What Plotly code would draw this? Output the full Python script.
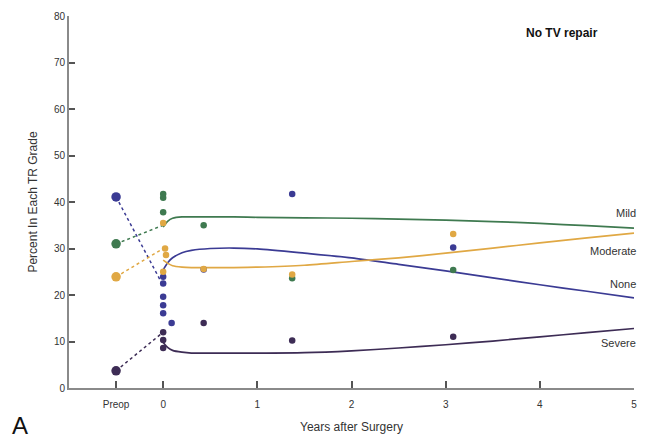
import plotly.graph_objects as go

# ---------------- data ----------------
grades = ["None", "Mild", "Moderate", "Severe"]
colors = {"None": "#3b3b94", "Mild": "#3f7a50", "Moderate": "#e0a844", "Severe": "#3d2c55"}

preop_x = -0.5
preop_vals = {"None": 41.1, "Mild": 31.0, "Moderate": 23.9, "Severe": 3.7}
# end point of the dashed preop->discharge connectors
discharge_vals = {"None": 22.0, "Mild": 35.0, "Moderate": 30.0, "Severe": 12.0}

obs_none_x = [0.0, 0.0, 0.0, 0.0, 0.0, 0.09, 0.43, 1.37, 3.08]
obs_none_y = [23.9, 22.5, 19.6, 17.8, 16.1, 14.0, 25.5, 41.7, 30.2]
obs_mild_x = [0.0, 0.0, 0.0, 0.43, 1.37, 3.08]
obs_mild_y = [41.7, 40.9, 37.8, 35.0, 23.6, 25.4]
obs_mod_x = [0.0, 0.02, 0.03, 0.0, 0.43, 1.37, 3.08]
obs_mod_y = [35.5, 30.0, 28.6, 25.0, 25.6, 24.4, 33.1]
obs_sev_x = [0.0, 0.0, 0.0, 0.43, 1.37, 3.08]
obs_sev_y = [12.0, 10.3, 8.6, 14.0, 10.2, 11.0]

curve_t = [0, 0.05, 0.1, 0.2, 0.3, 0.5, 0.75, 1, 1.5, 2, 2.5, 3, 3.5, 4, 4.5, 5]
curve_mild = [34.6, 35.9, 36.5, 36.8, 36.8, 36.8, 36.8, 36.7, 36.6, 36.5, 36.3, 36.1, 35.8, 35.4, 34.9, 34.4]
curve_none = [25.4, 27.0, 28.0, 29.1, 29.6, 30.0, 30.1, 29.9, 29.0, 28.0, 26.6, 25.2, 23.7, 22.2, 20.8, 19.4]
curve_mod = [27.5, 26.8, 26.3, 26.0, 25.9, 25.9, 25.9, 26.0, 26.4, 27.2, 28.0, 29.0, 30.1, 31.2, 32.3, 33.3]
curve_sev = [9.8, 8.7, 8.1, 7.7, 7.5, 7.5, 7.5, 7.5, 7.6, 8.0, 8.6, 9.3, 10.1, 11.0, 11.9, 12.8]

label_y = {"Mild": 37.6, "Moderate": 29.4, "None": 22.3, "Severe": 9.6}

x_tickvals = [-0.5, 0, 1, 2, 3, 4, 5]
x_ticktext = ["Preop", "0", "1", "2", "3", "4", "5"]
y_tickvals = [0, 10, 20, 30, 40, 50, 60, 70, 80]

obs = {
    "None": (obs_none_x, obs_none_y),
    "Mild": (obs_mild_x, obs_mild_y),
    "Moderate": (obs_mod_x, obs_mod_y),
    "Severe": (obs_sev_x, obs_sev_y),
}
curves = {"None": curve_none, "Mild": curve_mild, "Moderate": curve_mod, "Severe": curve_sev}

# ---------------- figure ----------------
fig = go.Figure()

for g in grades:
    c = colors[g]
    fig.add_trace(go.Scatter(
        x=[preop_x, 0], y=[preop_vals[g], discharge_vals[g]],
        mode="lines", line=dict(color=c, width=1.5, dash="3px,3px"),
        hoverinfo="skip", showlegend=False))
for g in grades:
    c = colors[g]
    fig.add_trace(go.Scatter(
        x=curve_t, y=curves[g], mode="lines",
        line=dict(color=c, width=1.7, shape="spline", smoothing=0.8),
        showlegend=False))
for g in grades:
    c = colors[g]
    ox, oy = obs[g]
    fig.add_trace(go.Scatter(
        x=ox, y=oy, mode="markers",
        marker=dict(color=c, size=6.5, line=dict(width=0)),
        showlegend=False))
    fig.add_trace(go.Scatter(
        x=[preop_x], y=[preop_vals[g]], mode="markers",
        marker=dict(color=c, size=9.5, line=dict(width=0)),
        showlegend=False))

for g in grades:
    fig.add_annotation(x=5, y=label_y[g], text=g, showarrow=False,
                       xanchor="right", yanchor="middle", xshift=4,
                       font=dict(size=11, color="#333"))

fig.add_annotation(x=0.94, y=0.955, xref="paper", yref="paper", text="<b>No TV repair</b>",
                   showarrow=False, xanchor="right", yanchor="middle",
                   font=dict(size=12, color="#111"))
fig.add_annotation(x=-0.105, y=-0.1, xref="paper", yref="paper", text="A", showarrow=False,
                   xanchor="left", yanchor="middle", font=dict(size=24, color="#111"))

fig.update_layout(
    width=650, height=440,
    margin=dict(l=69, r=16, t=16, b=52),
    paper_bgcolor="white", plot_bgcolor="white",
    font=dict(family="Liberation Sans, Arial, sans-serif", color="#333"),
    xaxis=dict(range=[-1, 5], tickvals=x_tickvals, ticktext=x_ticktext,
               showgrid=False, zeroline=False, showline=True, automargin=False,
               linecolor="#8a8a8a", linewidth=2, ticks="inside", ticklen=7,
               tickcolor="#555", tickwidth=1.5, tickfont=dict(size=10, color="#333"),
               ticklabelstandoff=6,
               title=dict(text="Years after Surgery", font=dict(size=12, color="#333"), standoff=14)),
    yaxis=dict(range=[0, 80], tickvals=y_tickvals,
               showgrid=False, zeroline=False, showline=True, automargin=False,
               linecolor="#8a8a8a", linewidth=2, ticks="inside", ticklen=6,
               tickcolor="#555", tickwidth=1.5, tickfont=dict(size=10, color="#333"),
               title=dict(text="Percent In Each TR Grade", font=dict(size=12, color="#333"), standoff=14)),
)

fig.write_html("out.html")
